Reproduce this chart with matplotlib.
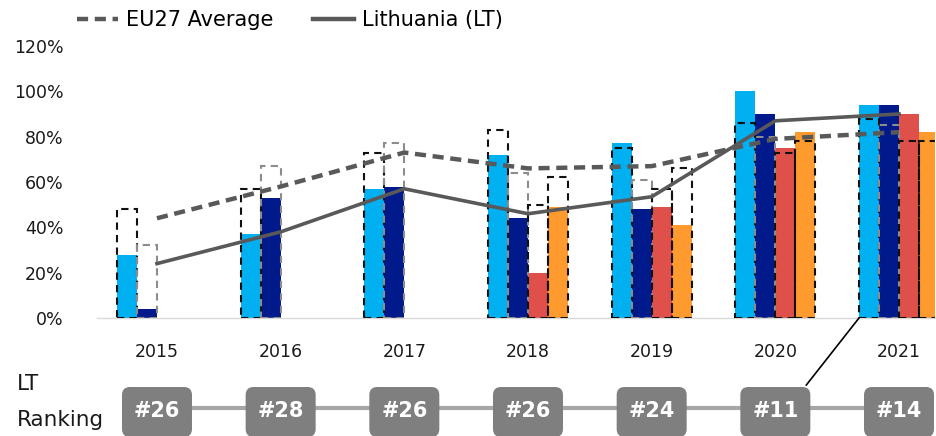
import numpy as np
import matplotlib.pyplot as plt
from matplotlib.patches import FancyBboxPatch
from matplotlib.lines import Line2D

plt.rcParams['font.family'] = ['DejaVu Sans']

years = ['2015', '2016', '2017', '2018', '2019', '2020', '2021']
nan = np.nan

# Lithuania values per indicator (%)
lt_ind1 = [28, 37, 57, 72, 77, 100, 94]
lt_ind2 = [4, 53, 58, 44, 48, 90, 94]
lt_ind3 = [nan, nan, nan, 20, 49, 75, 90]
lt_ind4 = [nan, nan, nan, 49, 41, 82, 82]

# EU27 average per indicator (%), drawn as dashed outlines
eu_ind1 = [48, 57, 73, 83, 75, 86, 88]
eu_ind2 = [32, 67, 77, 64, 61, 80, 85]
eu_ind3 = [nan, nan, nan, 50, 57, 73, 78]
eu_ind4 = [nan, nan, nan, 62, 66, 78, 78]

# overall index lines (%)
eu_avg = [44, 58, 73, 66, 67, 79, 82]
lt_avg = [24, 38, 57, 46, 53.5, 87, 90]

ranking = ['#26', '#28', '#26', '#26', '#24', '#11', '#14']

bar_colors = ['#00B0F0', '#001A8C', '#E0504A', '#FF9A2E']
edge_colors = ['#111111', '#8c8c8c', '#111111', '#111111']

W, H = 937, 436
fig = plt.figure(figsize=(W / 100, H / 100), dpi=100)
ax = fig.add_axes([97 / W, 118 / H, 838 / W, 272 / H])

x = np.arange(len(years))
bw = 0.1617
lt_sets = [lt_ind1, lt_ind2, lt_ind3, lt_ind4]
eu_sets = [eu_ind1, eu_ind2, eu_ind3, eu_ind4]
for k in range(4):
    pos = x + (k - 1.5) * bw
    ax.bar(pos, np.array(lt_sets[k]) / 100, width=bw, color=bar_colors[k], zorder=2)
    ax.bar(pos, np.array(eu_sets[k]) / 100, width=bw, fill=False,
           edgecolor=edge_colors[k], linestyle=(0, (3.5, 2.5)), linewidth=1.5, zorder=3)

ax.plot(x, np.array(eu_avg) / 100, color='#595959', lw=3.2, linestyle=(0, (2.5, 1.5)), zorder=4)
ax.plot(x, np.array(lt_avg) / 100, color='#595959', lw=2.6, zorder=4)

ax.set_xlim(-0.485, 6.291)
ax.set_ylim(0, 1.2)
ax.set_yticks(np.arange(0, 1.21, 0.2))
ax.set_yticklabels([f'{int(round(v * 100))}%' for v in np.arange(0, 1.21, 0.2)],
                   fontsize=12.5, color='#1a1a1a')
ax.set_xticks(x)
ax.set_xticklabels(years, fontsize=12.5, color='#1a1a1a')
ax.tick_params(axis='both', length=0)
ax.tick_params(axis='x', pad=18)
ax.tick_params(axis='y', pad=24)
for s in ['top', 'right', 'left']:
    ax.spines[s].set_visible(False)
ax.spines['bottom'].set_color('#D9D9D9')
ax.spines['bottom'].set_linewidth(1)

# legend
handles = [Line2D([], [], color='#595959', lw=3.2, linestyle=(0, (2.5, 1.5))),
           Line2D([], [], color='#595959', lw=3.2)]
fig.legend(handles, ['EU27 Average', 'Lithuania (LT)'], loc='center left',
           bbox_to_anchor=(58 / W, 1 - 20 / H), ncol=2, frameon=False,
           fontsize=15, handlelength=2.0, handletextpad=0.35, columnspacing=1.9)

# ranking row, overlay in pixel units
ov = fig.add_axes([0, 0, 1, 1], zorder=5)
ov.set_xlim(0, W)
ov.set_ylim(0, H)
ov.axis('off')
ov.patch.set_alpha(0)
px = [ax.transData.transform((xi, 0))[0] for xi in x]
row_y = 28
ov.plot([px[0], px[-1]], [row_y, row_y], color='#A6A6A6', lw=3, zorder=1)
bx_w, bx_h = 62, 42
for p, r in zip(px, ranking):
    ov.add_patch(FancyBboxPatch((p - bx_w / 2, row_y - bx_h / 2 - 4), bx_w, bx_h,
                                boxstyle='round,pad=4,rounding_size=8',
                                fc='#7F7F7F', ec='none', zorder=2))
    ov.text(p, row_y - 3, r, color='white', fontsize=15, fontweight='bold',
            ha='center', va='center', zorder=3)
ov.text(17, 52, 'LT', fontsize=15.5, color='#1a1a1a', ha='left', va='center')
ov.text(17, 16, 'Ranking', fontsize=15.5, color='#1a1a1a', ha='left', va='center')

# connector from 2020 rank box to 2021 bars
x0 = px[5] + bx_w / 2
x1 = ax.transData.transform((x[6] - 2 * bw, 0))[0]
ov.plot([x0, x1], [row_y + bx_h / 2 + 2, 118], color='black', lw=1.2, zorder=4)

fig.savefig('out.png', dpi=100)
